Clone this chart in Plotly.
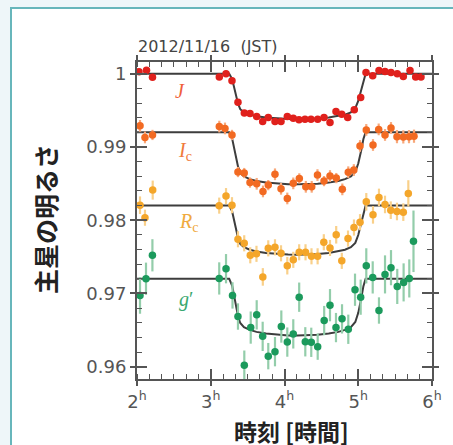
import plotly.graph_objects as go

# ---------------- data ----------------
# J band
j_t = [2.027, 2.129, 2.210, 3.116, 3.207, 3.288, 3.369, 3.455, 3.532, 3.623, 3.704, 3.780,
       3.871, 3.953, 4.038, 4.119, 4.197, 4.278, 4.359, 4.450, 4.536, 4.617, 4.698, 4.776,
       4.857, 4.946, 5.033, 5.105, 5.196, 5.281, 5.363, 5.444, 5.529, 5.611, 5.702, 5.779, 5.851]
j_v = [1.00027, 1.00048, 0.99952, 0.99955, 1.00000, 0.99904, 0.99612, 0.99462, 0.99456, 0.99415,
       0.99347, 0.99401, 0.99347, 0.99347, 0.99415, 0.99393, 0.99370, 0.99379, 0.99379, 0.99379,
       0.99401, 0.99333, 0.99484, 0.99448, 0.99401, 0.99507, 0.99675, 1.00018, 0.99973, 1.00045,
       1.00032, 1.00018, 1.00000, 0.99963, 1.00045, 0.99955, 0.99955]
j_e = [0.0003, 0.0003, 0.0003, 0.0003, 0.0003, 0.0003, 0.0003, 0.0003, 0.0003, 0.0003,
       0.0003, 0.0003, 0.0003, 0.0003, 0.0003, 0.0003, 0.0003, 0.0003, 0.0003, 0.0003,
       0.0003, 0.0003, 0.0003, 0.0003, 0.0003, 0.0003, 0.0003, 0.0003, 0.0003, 0.0003,
       0.0003, 0.0003, 0.0003, 0.0003, 0.0003, 0.0003, 0.0003]

# Ic band
ic_t = [2.041, 2.108, 2.210, 3.116, 3.193, 3.288, 3.369, 3.454, 3.532, 3.623, 3.708, 3.780,
        3.871, 3.953, 4.038, 4.119, 4.201, 4.289, 4.369, 4.447, 4.536, 4.617, 4.702, 4.784,
        4.865, 4.940, 5.024, 5.109, 5.200, 5.277, 5.363, 5.444, 5.525, 5.611, 5.688, 5.756]
ic_v = [0.99288, 0.99130, 0.99164, 0.99278, 0.99253, 0.99164, 0.98658, 0.98644, 0.98514, 0.98497,
        0.98393, 0.98479, 0.98627, 0.98429, 0.98297, 0.98503, 0.98571, 0.98456, 0.98456, 0.98616,
        0.98534, 0.98603, 0.98575, 0.98421, 0.98655, 0.98685, 0.99014, 0.99233, 0.99027, 0.99240,
        0.99164, 0.99260, 0.99141, 0.99137, 0.99141, 0.99147]
ic_e = [0.0008, 0.0008, 0.0007, 0.0008, 0.0008, 0.0007, 0.0007, 0.0007, 0.0007, 0.0008,
        0.0008, 0.0007, 0.0008, 0.0008, 0.0008, 0.0008, 0.0007, 0.0008, 0.0008, 0.0008,
        0.0007, 0.0008, 0.0007, 0.0008, 0.0008, 0.0008, 0.0008, 0.0008, 0.0008, 0.0008,
        0.0008, 0.0008, 0.0009, 0.0009, 0.0009, 0.0009]

# Rc band
rc_t = [2.041, 2.108, 2.213, 3.115, 3.207, 3.288, 3.369, 3.454, 3.536, 3.620, 3.706, 3.780,
        3.871, 3.953, 4.038, 4.119, 4.199, 4.285, 4.366, 4.449, 4.533, 4.617, 4.701, 4.777,
        4.861, 4.942, 5.024, 5.109, 5.200, 5.281, 5.363, 5.441, 5.525, 5.611, 5.679]
rc_v = [0.98205, 0.98034, 0.98411, 0.98199, 0.98329, 0.98205, 0.97740, 0.97685, 0.97521, 0.97541,
        0.97226, 0.97616, 0.97630, 0.97548, 0.97379, 0.97459, 0.97562, 0.97562, 0.97507, 0.97507,
        0.97699, 0.97621, 0.97801, 0.97445, 0.97749, 0.97900, 0.97973, 0.98251, 0.98073, 0.98311,
        0.98215, 0.98137, 0.98119, 0.98110, 0.98366]
rc_e = [0.0012, 0.0011, 0.0013, 0.0011, 0.0011, 0.0011, 0.0011, 0.0011, 0.0011, 0.0011,
        0.0012, 0.0011, 0.0011, 0.0011, 0.0012, 0.0011, 0.0011, 0.0011, 0.0011, 0.0011,
        0.0011, 0.0011, 0.0012, 0.0011, 0.0011, 0.0011, 0.0011, 0.0012, 0.0012, 0.0012,
        0.0012, 0.0012, 0.0012, 0.0012, 0.0018]

# g' band
g_t = [2.041, 2.122, 2.209, 3.115, 3.207, 3.295, 3.369, 3.455, 3.542, 3.623, 3.704, 3.780,
       3.871, 3.957, 4.038, 4.119, 4.199, 4.282, 4.363, 4.450, 4.538, 4.617, 4.698, 4.780,
       4.865, 4.956, 5.033, 5.109, 5.196, 5.281, 5.363, 5.444, 5.529, 5.615, 5.692, 5.749]
g_v = [0.96973, 0.97201, 0.97521, 0.97205, 0.97338, 0.96973, 0.96685, 0.96021, 0.96534, 0.96708,
       0.96414, 0.96144, 0.96205, 0.96548, 0.96336, 0.96448, 0.96949, 0.96340, 0.96333, 0.96274,
       0.96630, 0.96840, 0.96534, 0.96653, 0.96511, 0.97051, 0.96949, 0.97377, 0.97219, 0.96767,
       0.97260, 0.97352, 0.97096, 0.97151, 0.97205, 0.97712]
g_e = [0.0025, 0.0022, 0.0022, 0.0022, 0.0020, 0.0018, 0.0018, 0.0020, 0.0022, 0.0020,
       0.0020, 0.0018, 0.0020, 0.0022, 0.0020, 0.0020, 0.0020, 0.0020, 0.0020, 0.0018,
       0.0020, 0.0022, 0.0020, 0.0020, 0.0020, 0.0022, 0.0024, 0.0024, 0.0022, 0.0018,
       0.0026, 0.0024, 0.0024, 0.0026, 0.0026, 0.0042]

# model light curves
model_t = [2.0, 3.25, 3.29, 3.33, 3.37, 3.40, 3.45, 3.53, 3.62, 3.75, 3.90, 4.05, 4.175,
           4.30, 4.45, 4.60, 4.73, 4.82, 4.90, 4.96, 5.00, 5.04, 5.07, 5.10, 6.0]
model_j = [1.0, 1.0, 0.99926, 0.99764, 0.99591, 0.99516, 0.99473, 0.99442, 0.99420, 0.99402,
           0.99388, 0.99381, 0.9938, 0.99381, 0.99388, 0.99402, 0.99420, 0.99442, 0.99473,
           0.99529, 0.99628, 0.99783, 0.99919, 1.0, 1.0]
model_ic = [0.992, 0.992, 0.99115, 0.98930, 0.98731, 0.98646, 0.98597, 0.98561, 0.98536, 0.98515,
            0.98499, 0.98491, 0.9849, 0.98491, 0.98499, 0.98515, 0.98536, 0.98561, 0.98597,
            0.98660, 0.98774, 0.98952, 0.99108, 0.992, 0.992]
model_rc = [0.982, 0.982, 0.98120, 0.97945, 0.97758, 0.97677, 0.97631, 0.97597, 0.97574, 0.97553,
            0.97539, 0.97531, 0.9753, 0.97531, 0.97539, 0.97553, 0.97574, 0.97597, 0.97631,
            0.97691, 0.97798, 0.97966, 0.98113, 0.982, 0.982]
model_g = [0.972, 0.972, 0.97107, 0.96906, 0.96689, 0.96596, 0.96541, 0.96503, 0.96475, 0.96452,
           0.96435, 0.96427, 0.96425, 0.96427, 0.96435, 0.96452, 0.96475, 0.96503, 0.96541,
           0.96611, 0.96735, 0.96929, 0.97099, 0.972, 0.972]

x_tickvals = [2, 3, 4, 5, 6]
x_ticktext = ["2<sup>h</sup>", "3<sup>h</sup>", "4<sup>h</sup>", "5<sup>h</sup>", "6<sup>h</sup>"]
y_tickvals = [0.96, 0.97, 0.98, 0.99, 1.0]
y_ticktext = ["0.96", "0.97", "0.98", "0.99", "1"]

band_labels = ["<i>J</i>", "<i>I</i><sub>c</sub>", "<i>R</i><sub>c</sub>", "<i>g</i>′"]

# ---------------- layout geometry ----------------
W, H = 453, 445
L, R, T, B = 137, 21, 62, 66
PW, PH = W - L - R, H - T - B


def px(x):
    return (x - L) / PW


def py(y):
    return (H - B - y) / PH


AX = "#555555"
fig = go.Figure()

for mv in [model_j, model_ic, model_rc, model_g]:
    fig.add_trace(go.Scatter(x=model_t, y=mv, mode="lines",
                             line=dict(color="#3d3d3d", width=2), hoverinfo="skip"))

series = [
    (j_t, j_v, j_e, "#e0201c", "#f08a80"),
    (ic_t, ic_v, ic_e, "#f26a22", "#f8a87a"),
    (rc_t, rc_v, rc_e, "#f4a62a", "#f9d08a"),
    (g_t, g_v, g_e, "#1b9a5c", "#93cdaa"),
]
for t, v, e, c, ec in series:
    fig.add_trace(go.Scatter(
        x=t, y=v, mode="markers",
        marker=dict(color=c, size=7.5, line=dict(width=0)),
        error_y=dict(type="data", array=e, color=ec, thickness=2.2, width=0),
    ))

# empty trace so the overlay axes (inner major ticks) exist
fig.add_trace(go.Scatter(x=[], y=[], xaxis="x2", yaxis="y2", showlegend=False))

tickfont = dict(family="DejaVu Sans", size=18, color=AX)

fig.update_layout(
    width=W, height=H, autosize=False,
    margin=dict(l=L, r=R, t=T, b=B),
    paper_bgcolor="#eef6f9", plot_bgcolor="white",
    showlegend=False,
    xaxis=dict(range=[2, 6], tickmode="array", tickvals=x_tickvals, ticktext=x_ticktext,
               ticks="outside", ticklen=5, tickwidth=1.5, tickcolor=AX,
               showline=True, linecolor=AX, linewidth=2, mirror="ticks",
               showgrid=False, zeroline=False, tickfont=tickfont,
               minor=dict(tickmode="linear", tick0=2, dtick=1/6, ticks="inside",
                          ticklen=5, tickwidth=1.3, tickcolor=AX, showgrid=False)),
    yaxis=dict(range=[0.95832, 1.0016], tickmode="array", tickvals=y_tickvals, ticktext=y_ticktext,
               ticks="outside", ticklen=5, tickwidth=1.5, tickcolor=AX,
               showline=True, linecolor=AX, linewidth=2, mirror="ticks",
               showgrid=False, zeroline=False, tickfont=tickfont,
               minor=dict(tickmode="linear", tick0=0.96, dtick=0.002, ticks="inside",
                          ticklen=5, tickwidth=1.3, tickcolor=AX, showgrid=False)),
    xaxis2=dict(range=[2, 6], overlaying="x", anchor="y2", side="bottom",
                tickmode="array", tickvals=x_tickvals, showticklabels=False,
                ticks="inside", ticklen=10, tickwidth=1.5, tickcolor=AX,
                showline=False, mirror="ticks", showgrid=False, zeroline=False),
    yaxis2=dict(range=[0.95832, 1.0016], overlaying="y", anchor="x2", side="left",
                tickmode="array", tickvals=y_tickvals, showticklabels=False,
                ticks="inside", ticklen=10, tickwidth=1.5, tickcolor=AX,
                showline=False, mirror="ticks", showgrid=False, zeroline=False),
)

# framed panel background
fig.add_shape(type="rect", xref="paper", yref="paper", layer="below",
              x0=px(11), x1=px(470), y0=py(460), y1=py(8),
              fillcolor="white", line=dict(color="#67b6bb", width=2))

ann = []
ann.append(dict(text="2012/11/16\u00a0\u00a0(JST)", x=px(136), y=py(46), xref="paper", yref="paper",
                xanchor="left", yanchor="middle", showarrow=False,
                font=dict(family="DejaVu Sans", size=16, color="#444444")))
ann.append(dict(text="時刻 [時間]", x=px(291), y=py(431), xref="paper", yref="paper",
                xanchor="center", yanchor="middle", showarrow=False,
                font=dict(family="Noto Sans CJK JP", size=23, color="#222222", weight="bold")))
ann.append(dict(text="主星の明るさ", x=px(45), y=py(219), xref="paper", yref="paper",
                xanchor="center", yanchor="middle", showarrow=False, textangle=-90,
                font=dict(family="Noto Sans CJK JP", size=25, color="#222222", weight="bold")))

label_pos = [(180, 91), (185, 151), (188, 222), (186, 299)]
label_col = ["#f0603a", "#f07a3a", "#f0aa40", "#3aa870"]
for txt, (lx, ly), lc in zip(band_labels, label_pos, label_col):
    ann.append(dict(text=txt, x=px(lx), y=py(ly), xref="paper", yref="paper",
                    xanchor="center", yanchor="middle", showarrow=False,
                    font=dict(family="Liberation Serif", size=20, color=lc)))

fig.update_layout(annotations=ann)

fig.write_html("out.html",
               config={"displayModeBar": False},
               post_script="document.body.style.margin='0';document.body.style.padding='0';"
                           "document.documentElement.style.overflow='hidden';")
